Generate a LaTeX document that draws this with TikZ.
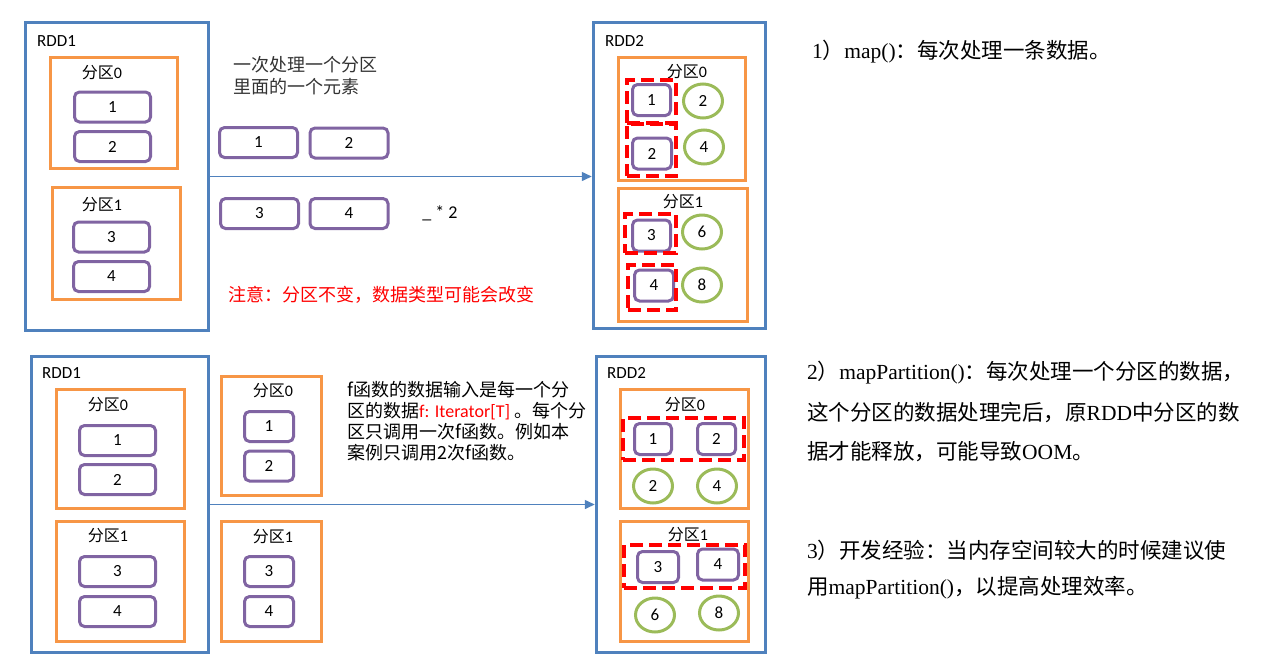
\documentclass[tikz,border=0pt]{standalone}
\usepackage{fontspec}
\setmainfont{Carlito}
\newfontfamily\cjk{Noto Sans CJK SC}
\newfontfamily\tms{Liberation Serif}
\usepackage{xcolor}
\usetikzlibrary{arrows.meta,shapes.geometric}
\definecolor{rddblue}{HTML}{4F81BD}
\definecolor{partorange}{HTML}{F79646}
\definecolor{elempurple}{HTML}{8064A2}
\definecolor{valgreen}{HTML}{9BBB59}
\newcommand\zh[1]{{\cjk #1}}
\newcommand\fq[1]{{\cjk 分区}#1}

\begin{document}
\begin{tikzpicture}[x=1pt,y=-1pt,
  rddbox/.style={draw=rddblue,line width=3.5pt,inner sep=0pt},
  partbox/.style={draw=partorange,line width=3.5pt,inner sep=0pt},
  elem/.style={draw=elempurple,line width=3pt,rounded corners=5pt,inner sep=0pt,minimum height=30pt,font=\fontsize{17}{17}\selectfont},
  val/.style={ellipse,draw=valgreen,line width=3pt,inner sep=0pt,minimum width=39pt,minimum height=34pt,font=\fontsize{17}{17}\selectfont},
  pick/.style={draw=red,line width=4pt,dash pattern=on 13pt off 6pt,inner sep=0pt},
  flow/.style={draw=rddblue,line width=1.5pt,-{Triangle[length=10pt,width=9pt]}},
  lbl/.style={anchor=west,inner sep=0pt,font=\fontsize{17}{17}\selectfont},
  plabel/.style={inner sep=0pt,font=\fontsize{16}{16}\selectfont},
  note/.style={anchor=west,inner sep=0pt,align=left,font=\cjk\fontsize{18}{22}\selectfont},
  say/.style={anchor=west,inner sep=0pt,font=\tms\fontsize{21.5}{22}\selectfont}]
  \useasboundingbox (0,0) rectangle (1266,662);

  % ===== top row: map =====
  % --- RDD1 ---
  \node[rddbox,minimum width=183,minimum height=308] (rdd1a) at (117,176.5) {};
  \node[lbl] (rdd1aT) at (37,41) {RDD1};
  \node[partbox,minimum width=127,minimum height=111] (a0) at (114,113) {};
  \node[plabel] (a0T) at (102,73) {\fq0};
  \node[partbox,minimum width=128,minimum height=112] (a1) at (116.5,243.5) {};
  \node[plabel] (a1T) at (102,205) {\fq1};
  \foreach \n/\x/\y in {1/112.5/107,2/112.5/146.5,3/111.5/237,4/111.5/276.5}
    \node[elem,minimum width=76] (ae\n) at (\x,\y) {\n};
  % --- one element at a time ---
  \node[note,text=black!80] (hint) at (233,76) {一次处理一个分区\\里面的一个元素};
  \foreach \n/\x/\y in {1/258.5/142.5,2/349/143,3/259.5/213.5,4/349/213.5}
    \node[elem,minimum width=78] (me\n) at (\x,\y) {\n};
  \node[inner sep=0pt,font=\fontsize{18}{18}\selectfont] (fn) at (440,213) {\_ * 2};
  \node[note,text=red] (warn) at (228,295) {注意：分区不变，数据类型可能会改变};
  % --- RDD2 ---
  \node[rddbox,minimum width=172,minimum height=306] (rdd2a) at (679.5,175.5) {};
  \node[lbl] (rdd2aT) at (605,41) {RDD2};
  \node[partbox,minimum width=127,minimum height=123] (c0) at (682,119) {};
  \node[plabel] (c0T) at (687,72) {\fq0};
  \node[partbox,minimum width=129,minimum height=133] (c1) at (683,255) {};
  \node[plabel] (c1T) at (683,202) {\fq1};
  \foreach \n/\x/\y/\w in {1/651.5/100/38,2/652/153.5/39,3/651.5/235.5/38,4/654/285.5/39}
    \node[elem,minimum width=\w,minimum height=31] (ce\n) at (\x,\y) {\n};
  \foreach \n/\v/\x/\y in {1/2/703/101,2/4/704/147,3/6/702/232,4/8/702/285}
    \node[val] (cv\n) at (\x,\y) {\v};
  \foreach \n/\x/\y/\w/\h in {1/651.5/101.5/49/43,2/651.5/150/49/52,3/650.5/233.5/51/39,4/652/287.5/48/45}
    \node[pick,minimum width=\w,minimum height=\h] (cs\n) at (\x,\y) {};
  \draw[flow] (rdd1a.east) -- (rdd1a.east -| rdd2a.west);

  % ===== bottom row: mapPartition =====
  % --- RDD1 ---
  \node[rddbox,minimum width=177,minimum height=296] (rdd1b) at (120,504.5) {};
  \node[lbl] (rdd1bT) at (42,373) {RDD1};
  \node[partbox,minimum width=128,minimum height=119] (b0) at (120.5,449) {};
  \node[plabel] (b0T) at (108,405) {\fq0};
  \node[partbox,minimum width=128,minimum height=120] (b1) at (120.5,581.5) {};
  \node[plabel] (b1T) at (108,536) {\fq1};
  \foreach \n/\y in {1/440.5,2/479.5,3/571.5,4/611.5}
    \node[elem,minimum width=76] (be\n) at (117.5,\y) {\n};
  % --- whole partitions ---
  \node[partbox,minimum width=100,minimum height=119] (m0) at (271.5,436) {};
  \node[plabel] (m0T) at (273,391) {\fq0};
  \node[partbox,minimum width=100,minimum height=120] (m1) at (271.5,581.5) {};
  \node[plabel] (m1T) at (273,537) {\fq1};
  \foreach \n/\y in {1/426.5,2/466,3/571.5,4/611.5}
    \node[elem,minimum width=49] (ne\n) at (269,\y) {\n};
  \node[note,font=\cjk\fontsize{18}{21}\selectfont] (fdesc) at (347,421)
    {f函数的数据输入是每一个分\\区的数据{\rmfamily\color{red}f: Iterator[T]} 。每个分\\区只调用一次f函数。例如本\\案例只调用2次f函数。};
  % --- RDD2 ---
  \node[rddbox,minimum width=169,minimum height=296] (rdd2b) at (681,504.5) {};
  \node[lbl] (rdd2bT) at (607,373) {RDD2};
  \node[partbox,minimum width=128,minimum height=119] (d0) at (684.5,449) {};
  \node[plabel] (d0T) at (685,405) {\fq0};
  \node[partbox,minimum width=128,minimum height=120] (d1) at (684.5,581.5) {};
  \node[plabel] (d1T) at (688,535) {\fq1};
  \foreach \n/\x/\y/\w in {1/653/439/37,2/716.5/439/38,3/658/567/41,4/718/564.5/41}
    \node[elem,minimum width=\w,minimum height=31] (de\n) at (\x,\y) {\n};
  \foreach \n/\v/\x/\y in {1/2/653/486,2/4/717/486,3/6/655/615,4/8/719/613}
    \node[val] (dv\n) at (\x,\y) {\v};
  \node[pick,minimum width=121,minimum height=42] (ds0) at (683.5,439) {};
  \node[pick,minimum width=121,minimum height=43] (ds1) at (684.5,566.5) {};
  \draw[flow] (rdd1b.east) -- (rdd1b.east -| rdd2b.west);

  % ===== notes on the right =====
  \node[say] (say1) at (812,52) {1\zh{）}map()\zh{：每次处理一条数据。}};
  \node[say] (say2) at (807,373) {2\zh{）}mapPartition()\zh{：每次处理一个分区的数据，}};
  \node[say] (say3) at (807,413) {\zh{这个分区的数据处理完后，原}RDD\zh{中分区的数}};
  \node[say] (say4) at (807,452) {\zh{据才能释放，可能导致}OOM\zh{。}};
  \node[say] (say5) at (807,550) {3\zh{）开发经验：当内存空间较大的时候建议使}};
  \node[say] (say6) at (807,588) {\zh{用}mapPartition()\zh{，以提高处理效率。}};
\end{tikzpicture}
\end{document}
